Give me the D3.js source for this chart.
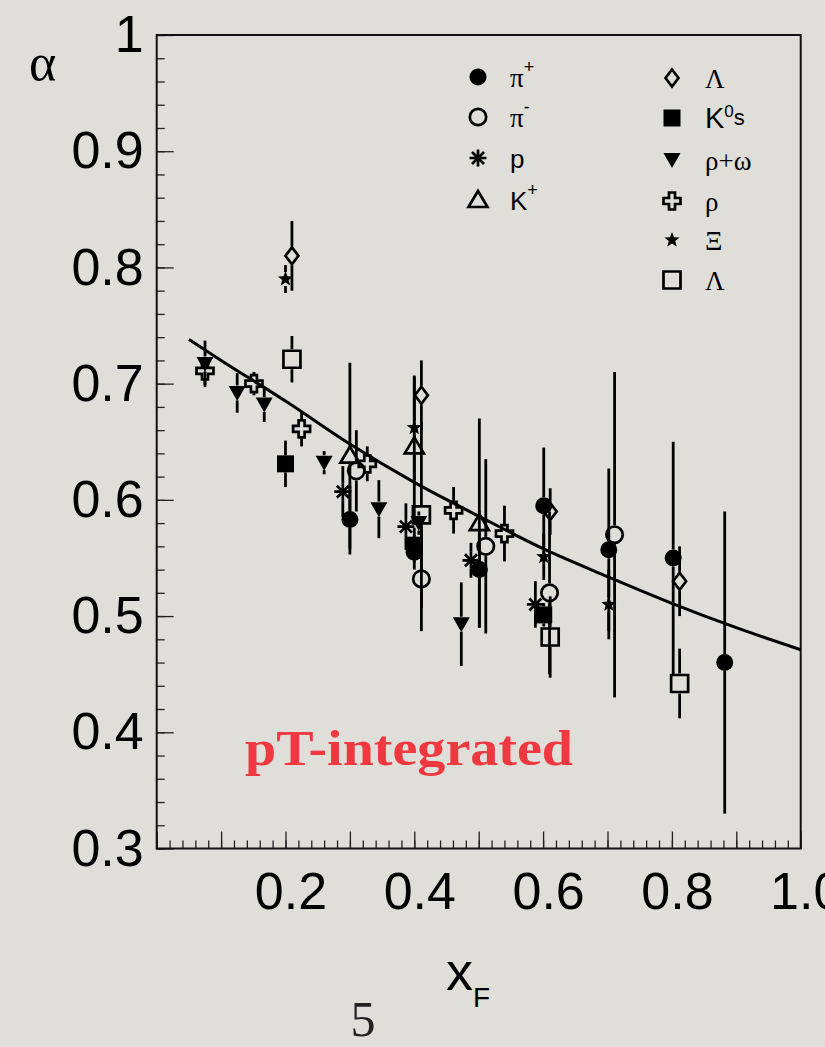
<!DOCTYPE html>
<html>
<head>
<meta charset="utf-8">
<script src="https://cdn.jsdelivr.net/npm/d3@7"></script>
<style>
  body { margin: 0; background: #e0ded9; }
  svg { display: block; }
</style>
</head>
<body>
<svg id="chart" width="825" height="1047"></svg>
<script>
/* DATA: each point is [xF, alpha, error] */
const piPlus   = [[0.300,0.583,0.030],[0.400,0.555,0.015],[0.501,0.540,0.050],[0.601,0.595,0.050],[0.702,0.557,0.070],[0.802,0.550,0.100],[0.882,0.460,0.130]];
const piMinus  = [[0.310,0.625,0.035],[0.411,0.532,0.045],[0.511,0.560,0.075],[0.610,0.520,0.070],[0.711,0.570,0.140]];
const proton   = [[0.289,0.607,0.022],[0.387,0.577,0.020],[0.488,0.548,0.015],[0.588,0.510,0.020]];
const kPlus    = [[0.300,0.638,0.080],[0.400,0.646,0.060],[0.501,0.580,0.090]];
const lambdaD  = [[0.210,0.810,0.030],[0.411,0.690,0.030],[0.611,0.590,0.020],[0.812,0.530,0.030]];
const k0s      = [[0.200,0.631,0.020],[0.400,0.561,0.015],[0.601,0.501,0.010]];
const rhoOmega = [[0.075,0.717,0.020],[0.125,0.692,0.017],[0.167,0.682,0.015],[0.260,0.632,0.010],[0.345,0.592,0.025],[0.407,0.580,0.010],[0.473,0.493,0.036]];
const rho      = [[0.075,0.711,0.012],[0.151,0.700,0.010],[0.225,0.661,0.015],[0.327,0.631,0.015],[0.461,0.591,0.020],[0.540,0.571,0.024]];
const xi       = [[0.200,0.790,0.012],[0.400,0.662,0.045],[0.601,0.551,0.020],[0.702,0.510,0.030]];
const lambdaS  = [[0.210,0.721,0.020],[0.411,0.587,0.080],[0.611,0.482,0.035],[0.812,0.442,0.030]];

// fit curve
const fitCurve = [[0.05,0.738],[0.1,0.720],[0.2,0.685],[0.3,0.648],[0.4,0.615],[0.5,0.586],[0.6,0.558],[0.7,0.534],[0.8,0.511],[0.9,0.490],[1.0,0.471]];

// axis ticks / labels
const xMajor = d3.range(0, 11).map(i => i / 10);
const xMinor = d3.range(0, 51).map(i => i / 50);
const xLabels = [0.2, 0.4, 0.6, 0.8, 1.0];
const yMajor = d3.range(3, 11).map(i => i / 10);
const yMinor = d3.range(15, 51).map(i => i / 50);

// legend entries: [main text, superscript, greek?]
const legendLeft  = [["π","+",true],["π","-",true],["p","",false],["K","+",false]];
const legendRight = [["Λ","",true],["K","0s",false],["ρ+ω","",true],["ρ","",true],["Ξ","",true],["Λ","",true]];

const series = [
  { data: piPlus,   sym: "circleFilled" },
  { data: piMinus,  sym: "circleOpen" },
  { data: proton,   sym: "asterisk" },
  { data: kPlus,    sym: "triangleOpen" },
  { data: lambdaD,  sym: "diamondOpen" },
  { data: k0s,      sym: "squareFilled" },
  { data: rhoOmega, sym: "triangleDown" },
  { data: rho,      sym: "crossOpen" },
  { data: xi,       sym: "star" },
  { data: lambdaS,  sym: "squareOpen" }
];
const leftSyms  = ["circleFilled","circleOpen","asterisk","triangleOpen"];
const rightSyms = ["diamondOpen","squareFilled","triangleDown","crossOpen","star","squareOpen"];

/* SCALES */
const x = d3.scaleLinear().domain([0, 1]).range([156.7, 800.7]);
const y = d3.scaleLinear().domain([0.3, 1]).range([848.5, 35]);

const svg = d3.select("#chart");
const sans = "'Liberation Sans', Arial, Helvetica, sans-serif";
const serif = "'Liberation Serif', 'Times New Roman', serif";

/* MARKER SHAPES (path + fill/stroke), half-height used for error bar gap */
const markers = {
  circleFilled: { d: circlePath(8.5), fill: "#000", stroke: "none", h: 8.5 },
  circleOpen:   { d: circlePath(8.2), fill: "none", stroke: "#000", h: 9.5 },
  asterisk:     { d: "M-8.5,0H8.5M0,-8.5V8.5M-6,-6L6,6M-6,6L6,-6", fill: "none", stroke: "#000", h: 8.5 },
  triangleOpen: { d: "M0,-9L9.5,7H-9.5Z", fill: "none", stroke: "#000", h: 8.5 },
  diamondOpen:  { d: "M0,-8.5L6.5,0L0,8.5L-6.5,0Z", fill: "none", stroke: "#000", h: 9.5 },
  squareFilled: { d: "M-8.5,-8.5H8.5V8.5H-8.5Z", fill: "#000", stroke: "none", h: 8.5 },
  triangleDown: { d: "M-8.5,-7H8.5L0,8Z", fill: "#000", stroke: "none", h: 7.5 },
  crossOpen:    { d: "M-3,-8.5H3V-3H8.5V3H3V8.5H-3V3H-8.5V-3H-3Z", fill: "none", stroke: "#000", h: 9.5 },
  star:         { d: starPath(8, 3.4), fill: "#000", stroke: "none", h: 7 },
  squareOpen:   { d: "M-8.5,-8.5H8.5V8.5H-8.5Z", fill: "none", stroke: "#000", h: 10 }
};

function circlePath(r) {
  return `M${r},0A${r},${r} 0 1,1 ${-r},0A${r},${r} 0 1,1 ${r},0Z`;
}
function starPath(R, r) {
  let pts = [];
  for (let i = 0; i < 10; i++) {
    const a = -Math.PI / 2 + i * Math.PI / 5;
    const rad = i % 2 === 0 ? R : r;
    pts.push([rad * Math.cos(a), rad * Math.sin(a)]);
  }
  return "M" + pts.map(p => p[0].toFixed(2) + "," + p[1].toFixed(2)).join("L") + "Z";
}

/* AXES */
const gx = svg.append("g").attr("transform", "translate(0,848.5)");
gx.append("g").call(d3.axisBottom(x).tickValues(xMinor).tickSize(-8).tickFormat(""));
gx.append("g").call(d3.axisBottom(x).tickValues(xMajor).tickSize(-17).tickFormat(""));
gx.append("g").call(d3.axisBottom(x).tickValues(xLabels).tickSize(0).tickPadding(24)
    .tickFormat(d3.format(".1f")));
gx.selectAll(".domain").remove();
gx.selectAll("line").attr("stroke", "#222").attr("stroke-width", 1.3);
gx.selectAll("text").attr("font-family", sans).attr("font-size", 52)
  .attr("fill", "#000").attr("dx", 5);

const gy = svg.append("g").attr("transform", "translate(156.7,0)");
gy.append("g").call(d3.axisLeft(y).tickValues(yMinor).tickSize(-8).tickFormat(""));
gy.append("g").call(d3.axisLeft(y).tickValues(yMajor).tickSize(-17).tickFormat(""));
gy.append("g").call(d3.axisLeft(y).tickValues(yMajor).tickSize(0).tickPadding(13)
    .tickFormat(d => d === 1 ? "1" : d3.format(".1f")(d)));
gy.selectAll(".domain").remove();
gy.selectAll("line").attr("stroke", "#222").attr("stroke-width", 1.3);
gy.selectAll("text").attr("font-family", sans).attr("font-size", 52).attr("fill", "#000");

// frame
svg.append("rect")
  .attr("x", x(0)).attr("y", y(1))
  .attr("width", x(1) - x(0)).attr("height", y(0.3) - y(1))
  .attr("fill", "none").attr("stroke", "#111").attr("stroke-width", 2);

/* FIT CURVE */
svg.append("path")
  .datum(fitCurve)
  .attr("d", d3.line().x(d => x(d[0])).y(d => y(d[1])).curve(d3.curveMonotoneX))
  .attr("fill", "none").attr("stroke", "#000").attr("stroke-width", 3);

/* ERROR BARS (with a gap around the marker) */
const bars = svg.append("g").attr("stroke", "#000").attr("stroke-width", 2.8);
series.forEach(s => {
  const h = markers[s.sym].h;
  s.data.forEach(([xv, yv, e]) => {
    const cx = x(xv), cy = y(yv), top = y(yv + e), bot = y(yv - e);
    if (cy - h > top) bars.append("line").attr("x1", cx).attr("x2", cx).attr("y1", top).attr("y2", cy - h);
    if (bot > cy + h) bars.append("line").attr("x1", cx).attr("x2", cx).attr("y1", cy + h).attr("y2", bot);
  });
});

/* MARKERS */
function drawMarker(g, sym, cx, cy) {
  const m = markers[sym];
  g.append("path").attr("d", m.d)
    .attr("transform", `translate(${cx},${cy})`)
    .attr("fill", m.fill)
    .attr("stroke", m.stroke)
    .attr("stroke-width", 2.7)
    .attr("stroke-linejoin", "miter");
}
const marks = svg.append("g");
series.forEach(s => s.data.forEach(d => drawMarker(marks, s.sym, x(d[0]), y(d[1]))));

/* LEGEND */
const leg = svg.append("g");
function legendLabel(lx, ly, entry) {
  const [main, sup, greek] = entry;
  const t = leg.append("text").attr("x", lx).attr("y", ly).attr("fill", "#000");
  t.append("tspan").text(main)
    .attr("font-family", greek ? serif : sans)
    .attr("font-size", greek ? 27 : (main === "K" && sup === "0s" ? 29 : 26));
  if (sup === "0s") {
    t.append("tspan").text("0").attr("font-family", sans).attr("font-size", 17).attr("dy", -11);
    t.append("tspan").text("s").attr("font-family", sans).attr("font-size", 22).attr("dy", 8);
  } else if (sup) {
    t.append("tspan").text(sup).attr("font-family", sans).attr("font-size", 18).attr("dy", -14);
  }
}
const leftRows = [77, 117, 158, 200];
const rightRows = [78, 118, 160, 201, 240, 280];
legendLeft.forEach((e, i) => {
  drawMarker(leg, leftSyms[i], 478, leftRows[i]);
  legendLabel(510, leftRows[i] + 10, e);
});
legendRight.forEach((e, i) => {
  drawMarker(leg, rightSyms[i], 672, rightRows[i]);
  legendLabel(705, rightRows[i] + 10, e);
});

/* TEXT */
svg.append("text").attr("x", 29).attr("y", 80)
  .attr("font-family", serif).attr("font-size", 52).text("α");

const xt = svg.append("text").attr("x", 446).attr("y", 990).attr("font-family", sans);
xt.append("tspan").attr("font-size", 54).text("x");
xt.append("tspan").attr("font-size", 28).attr("dy", 17).text("F");

svg.append("text").attr("x", 245).attr("y", 765)
  .attr("font-family", serif).attr("font-weight", "bold").attr("font-size", 50)
  .attr("fill", "#ef3840").attr("textLength", 328).attr("lengthAdjust", "spacingAndGlyphs")
  .text("pT-integrated");

svg.append("text").attr("x", 363).attr("y", 1036).attr("text-anchor", "middle")
  .attr("font-family", serif).attr("font-size", 50).attr("fill", "#222").text("5");
</script>
</body>
</html>
